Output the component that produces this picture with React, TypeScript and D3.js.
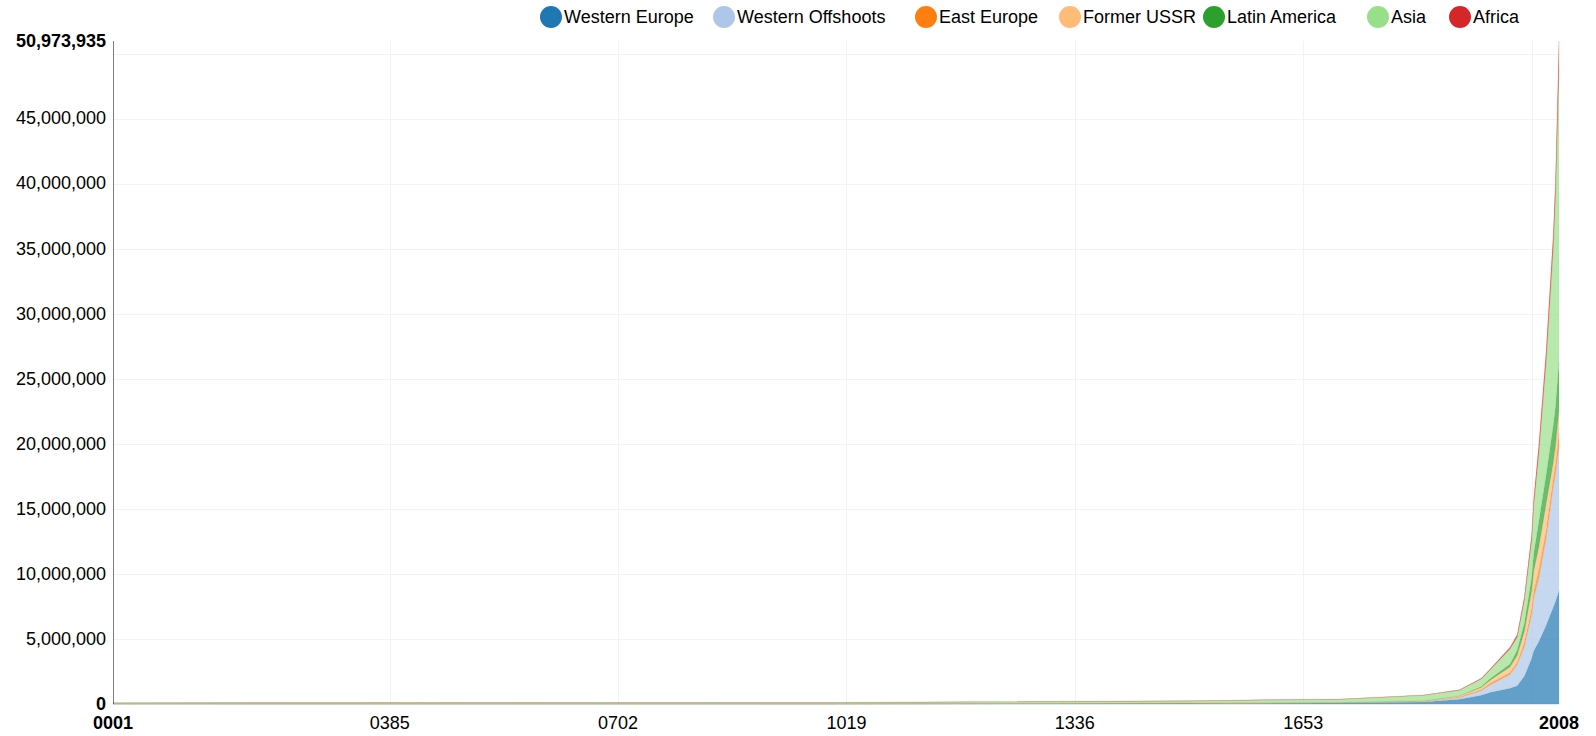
import React from 'react';
import * as d3 from 'd3';

// GDP by region (million 1990 GK$)
const years = [1, 1000, 1500, 1600, 1700, 1820, 1870, 1900, 1913, 1940, 1950, 1960, 1970, 1973, 1980, 1990, 2000, 2003, 2008];
const westernEurope = [14433, 10165, 44183, 65602, 81213, 160145, 367588, 675923, 902341, 1220000, 1396188, 2160000, 3500000, 4096456, 4800000, 6032764, 7430000, 7860000, 8697782];
const westernOffshoots = [468, 784, 800, 600, 527, 13548, 111453, 347000, 582941, 1050000, 1635490, 2280000, 3380000, 4058289, 4860000, 6650000, 9250000, 9800000, 11100000];
const eastEurope = [1956, 2600, 6696, 9289, 11393, 24906, 50163, 88000, 134793, 160000, 185023, 310000, 465000, 550757, 690000, 660861, 690000, 760000, 1050000];
const formerUSSR = [1560, 2840, 8458, 11426, 16196, 37678, 83646, 154049, 232351, 420091, 510243, 843434, 1351818, 1513070, 1709174, 1987995, 1180000, 1370000, 1750000];
const latinAmerica = [2240, 4560, 7288, 3763, 6346, 14912, 27505, 71000, 119883, 230000, 415907, 650000, 1010000, 1389460, 2000000, 2240000, 2860000, 3040000, 3700000];
const asia = [77732, 82000, 161737, 217313, 229691, 411987, 415780, 577000, 681395, 1150000, 990119, 1730000, 2870000, 3700000, 5160000, 8630000, 13600000, 16000000, 22476153];
const africa = [7013, 13835, 19283, 23349, 25692, 31266, 45234, 60000, 79486, 140000, 203131, 296000, 450000, 549993, 760000, 890000, 1110000, 1300000, 2200000];

const seriesNames = ['Western Europe', 'Western Offshoots', 'East Europe', 'Former USSR', 'Latin America', 'Asia', 'Africa'];
const seriesValues = [westernEurope, westernOffshoots, eastEurope, formerUSSR, latinAmerica, asia, africa];
const seriesColors = ['#1f77b4', '#aec7e8', '#ff7f0e', '#ffbb78', '#2ca02c', '#98df8a', '#d62728'];

const xGridYears = [385, 702, 1019, 1336, 1653, 1970];
const xLabelYears = [385, 702, 1019, 1336, 1653];

// legend item centres (layout)
const legendX = [551, 724, 926, 1070, 1214, 1378, 1460];

const width = 1596;
const height = 736;
const margin = { top: 41, right: 37, bottom: 32, left: 113 };
const font = 'Arial, "Liberation Sans", sans-serif';

export default function App() {
  const rows = years.map((y, i) => {
    const r: any = { year: y };
    seriesNames.forEach((n, k) => { r[n] = seriesValues[k][i]; });
    return r;
  });

  const stacked = d3.stack().keys(seriesNames)(rows);
  const maxTotal = d3.max(rows, (r: any) => d3.sum(seriesNames, n => r[n])) as number;

  const x = d3.scaleLinear().domain([1, 2008]).range([margin.left, width - margin.right]);
  const y = d3.scaleLinear().domain([0, maxTotal]).range([height - margin.bottom, margin.top]);

  const area = d3.area<any>()
    .x(d => x(d.data.year))
    .y0(d => y(d[0]))
    .y1(d => y(d[1]))
    .curve(d3.curveLinear);

  const yTicks = y.ticks(10);
  const fmt = d3.format(',');
  const yearFmt = d3.format('04d');
  const x0 = margin.left, x1 = width - margin.right;
  const yBottom = height - margin.bottom;

  return (
    <svg width={width} height={height} style={{ position: 'absolute', left: 0, top: 0, background: '#fff' }} fontFamily={font}>
      {/* grid */}
      {yTicks.map(t => (
        <line key={'gy' + t} x1={x0} x2={x1} y1={Math.round(y(t)) + 0.5} y2={Math.round(y(t)) + 0.5} stroke="#f3f3f3" />
      ))}
      {xGridYears.map(t => (
        <line key={'gx' + t} x1={Math.round(x(t)) + 0.5} x2={Math.round(x(t)) + 0.5} y1={margin.top} y2={yBottom} stroke="#f3f3f3" />
      ))}

      {/* areas */}
      {stacked.map((s, i) => (
        <path key={seriesNames[i]} d={area(s as any) || ''} fill={seriesColors[i]} fillOpacity={0.7} stroke={seriesColors[i]} strokeOpacity={0.25} strokeWidth={0.5} />
      ))}

      {/* y axis */}
      <line x1={x0 + 0.5} x2={x0 + 0.5} y1={margin.top} y2={yBottom} stroke="#000" strokeOpacity={0.5} />
      {yTicks.filter(t => t > 0 && y(t) - y(maxTotal) > 20).map(t => (
        <text key={'yt' + t} x={x0 - 7} y={y(t)} dy="0.32em" textAnchor="end" fontSize={18} fill="#000">{fmt(t)}</text>
      ))}
      <text x={x0 - 7} y={y(0)} dy="0.32em" textAnchor="end" fontSize={18} fontWeight="bold" fill="#000">0</text>
      <text x={x0 - 7} y={y(maxTotal)} dy="0.32em" textAnchor="end" fontSize={18} fontWeight="bold" fill="#000">{fmt(maxTotal)}</text>

      {/* x axis */}
      {xLabelYears.map(t => (
        <text key={'xt' + t} x={x(t)} y={yBottom + 19} dy="0.32em" textAnchor="middle" fontSize={18} fill="#000">{yearFmt(t)}</text>
      ))}
      <text x={x(1)} y={yBottom + 19} dy="0.32em" textAnchor="middle" fontSize={18} fontWeight="bold" fill="#000">{yearFmt(1)}</text>
      <text x={x(2008)} y={yBottom + 19} dy="0.32em" textAnchor="middle" fontSize={18} fontWeight="bold" fill="#000">{yearFmt(2008)}</text>

      {/* legend */}
      {seriesNames.map((n, i) => (
        <g key={'lg' + n} transform={`translate(${legendX[i]},17)`}>
          <circle r={10} fill={seriesColors[i]} stroke={seriesColors[i]} strokeWidth={2} />
          <text x={13} dy="0.32em" fontSize={18} fill="#000">{n}</text>
        </g>
      ))}
    </svg>
  );
}
